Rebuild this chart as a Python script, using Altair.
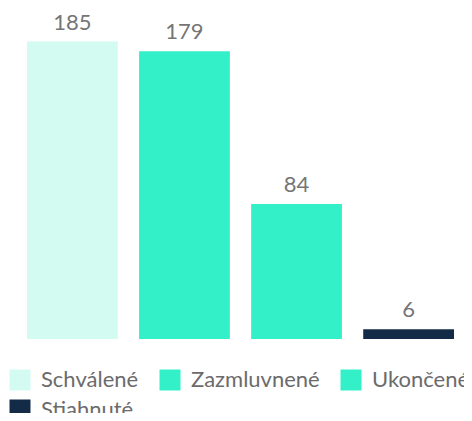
import altair as alt
import pandas as pd

categories = ["Schválené", "Zazmluvnené", "Ukončené", "Stiahnuté"]
values = [185, 179, 84, 6]
colors = ["#d3fbf2", "#33f0c8", "#33f0c8", "#132b47"]

df = pd.DataFrame({"cat": categories, "val": values})

x = alt.X("cat:N", sort=categories, axis=None,
          scale=alt.Scale(paddingInner=0.19, paddingOuter=0))
y = alt.Y("val:Q", axis=None, scale=alt.Scale(domain=[0, 185], nice=False, zero=True))

bars = alt.Chart(df).mark_bar().encode(
    x=x, y=y,
    color=alt.Color("cat:N", sort=categories,
                    scale=alt.Scale(domain=categories, range=colors),
                    legend=alt.Legend(title=None, orient="none", legendX=-18, legendY=327.5,
                                      direction="horizontal", columns=3,
                                      symbolType="square", symbolSize=441,
                                      symbolStrokeWidth=0,
                                      labelFontSize=22, labelColor="#6b6b6b",
                                      labelFont="Lato", labelOffset=10,
                                      columnPadding=20, rowPadding=8,
                                      labelLimit=300))
)

text = alt.Chart(df).mark_text(baseline="alphabetic", dy=-12, fontSize=22,
                               font="Lato", color="#757575").encode(
    x=x, y=y, text="val:Q"
)

chart = (bars + text).properties(
    width=427, height=297.5,
    autosize=alt.AutoSizeParams(type="none"),
    padding={"left": 19, "top": 33.5, "right": 10, "bottom": 74},
).configure_view(stroke=None)

chart.save("out.html", embed_options={"renderer": "svg", "actions": False})
